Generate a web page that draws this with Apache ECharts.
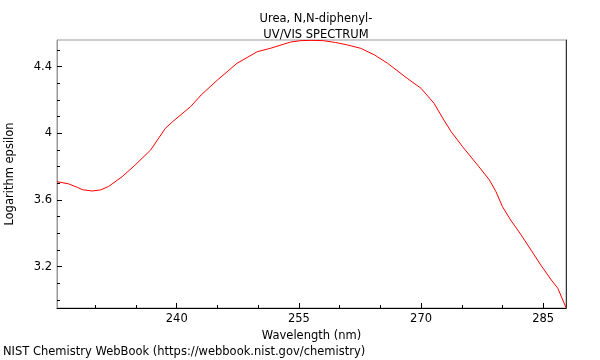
<!DOCTYPE html>
<html><head><meta charset="utf-8">
<script src="https://cdn.jsdelivr.net/npm/echarts@6/dist/echarts.min.js"></script>
<style>html,body{margin:0;padding:0;background:#fff}#c{width:600px;height:360px}</style>
</head><body><div id="c"></div>
<script>
const wavelengths = [225.3,226.7,227.8,228.4,229.6,230.6,231.6,233.3,234.9,236.8,238.6,239.5,241.7,243.0,245.0,247.4,249.9,251.5,252.8,254.0,255.2,256.5,258.0,259.5,261.0,262.6,264.3,265.9,268.3,270.0,271.6,272.8,273.7,275.1,277.1,278.4,279.2,280.0,281.0,282.3,283.5,284.7,286.0,286.8,287.8];
const logEps = [3.71,3.697,3.676,3.662,3.654,3.66,3.68,3.74,3.81,3.90,4.03,4.07,4.16,4.23,4.32,4.42,4.49,4.51,4.53,4.548,4.556,4.558,4.556,4.545,4.53,4.51,4.47,4.42,4.33,4.27,4.18,4.08,4.01,3.92,3.80,3.72,3.65,3.56,3.48,3.39,3.30,3.21,3.12,3.07,2.954];
const xMajor = [240,255,270,285];
const xMinor = [230,235,245,250,260,265,275,280];
const yMajor = [3.2,3.6,4.0,4.4];
const yMinor = [3.0,3.1,3.3,3.4,3.5,3.7,3.8,3.9,4.1,4.2,4.3,4.5];
const titleText = 'Urea, N,N-diphenyl-\nUV/VIS SPECTRUM';
const footer = 'NIST Chemistry WebBook (https://webbook.nist.gov/chemistry)';

const xMin = 225.3, xMax = 287.8, yMin = 2.952, yMax = 4.56;
const font = 'DejaVu Sans';
const fs = 11.5;
const chart = echarts.init(document.getElementById('c'));
const pts = wavelengths.map((w,i)=>[w,logEps[i]]);
function xa(opts){return Object.assign({type:'value',min:xMin,max:xMax,splitLine:{show:false},axisLine:{show:false},axisTick:{show:false},axisLabel:{show:false}},opts);}
function ya(opts){return Object.assign({type:'value',min:yMin,max:yMax,splitLine:{show:false},axisLine:{show:false},axisTick:{show:false},axisLabel:{show:false}},opts);}
chart.setOption({
  animation:false,
  textStyle:{fontFamily:font},
  grid:{left:57,top:40,right:34,bottom:52,show:true,borderColor:'#999',borderWidth:1,outerBoundsMode:'none',containLabel:false},
  title:{text:titleText,left:311,textAlign:'center',top:6,textStyle:{fontFamily:font,fontSize:fs,fontWeight:'normal',color:'#000',lineHeight:16}},
  graphic:[{type:'text',left:3,top:346,style:{text:footer,fontFamily:font,fontSize:fs,fill:'#000'}}],
  xAxis:[
    xa({position:'bottom',name:'Wavelength (nm)',nameLocation:'middle',nameGap:19,nameTextStyle:{fontFamily:font,fontSize:fs,color:'#000'},
      axisLine:{show:true,lineStyle:{color:'#000',width:1}},
      axisTick:{show:true,inside:true,length:5,customValues:xMajor,lineStyle:{color:'#000'}},
      axisLabel:{show:true,customValues:xMajor,margin:5,fontFamily:font,fontSize:fs,color:'#000'}}),
    xa({position:'bottom',axisTick:{show:true,inside:true,length:3,customValues:xMinor,lineStyle:{color:'#000'}}})
  ],
  yAxis:[
    ya({position:'left',name:'Logarithm epsilon',nameLocation:'middle',nameGap:41,nameTextStyle:{fontFamily:font,fontSize:fs,color:'#000'},
      axisLine:{show:true,lineStyle:{color:'#999',width:1}},
      axisTick:{show:true,inside:true,length:5,customValues:yMajor,lineStyle:{color:'#000'}},
      axisLabel:{show:true,customValues:yMajor,margin:5,fontFamily:font,fontSize:fs,color:'#000',formatter:v=>String(+(+v).toFixed(1))}}),
    ya({position:'left',axisTick:{show:true,inside:true,length:3,customValues:yMinor,lineStyle:{color:'#000'}}}),
    ya({position:'right',axisLine:{show:true,lineStyle:{color:'#333',width:1}}})
  ],
  series:[{type:'line',data:pts,showSymbol:false,symbol:'none',lineStyle:{color:'#ff0000',width:1},clip:true,xAxisIndex:0,yAxisIndex:0}]
});
</script></body></html>
